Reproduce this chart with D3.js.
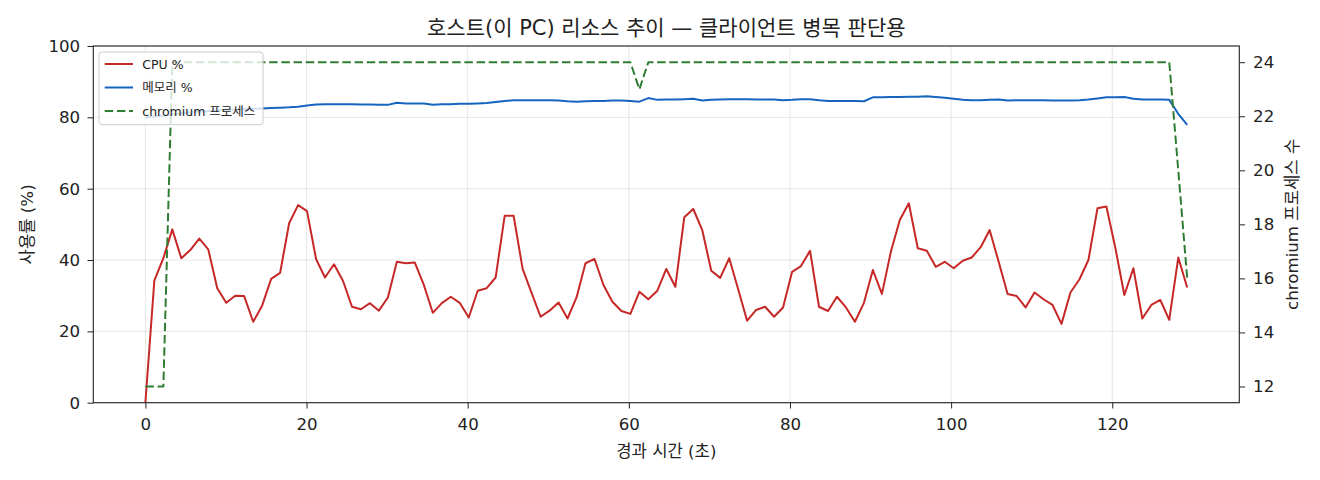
<!DOCTYPE html>
<html>
<head>
<meta charset="utf-8">
<script src="https://cdn.jsdelivr.net/npm/d3@7/dist/d3.min.js"></script>
<style>
  html, body { margin: 0; padding: 0; background: #fff; }
  svg { display: block; }
  text { font-family: "DejaVu Sans", "Noto Sans CJK KR", sans-serif; fill: #222; }
</style>
</head>
<body>
<svg id="chart" width="1320" height="480"></svg>
<script>
// ---- data ----
const times = [
  0.00,1.11,2.23,3.34,4.46,5.57,6.69,7.80,8.92,10.03,
  11.15,12.26,13.38,14.49,15.61,16.72,17.84,18.95,20.06,21.18,
  22.29,23.41,24.52,25.64,26.75,27.87,28.98,30.10,31.21,32.33,
  33.44,34.56,35.67,36.79,37.90,39.01,40.13,41.24,42.36,43.47,
  44.59,45.70,46.82,47.93,49.05,50.16,51.28,52.39,53.51,54.62,
  55.74,56.85,57.96,59.08,60.19,61.31,62.42,63.54,64.65,65.77,
  66.88,68.00,69.11,70.23,71.34,72.46,73.57,74.68,75.80,76.91,
  78.03,79.14,80.26,81.37,82.49,83.60,84.72,85.83,86.95,88.06,
  89.18,90.29,91.41,92.52,93.63,94.75,95.86,96.98,98.09,99.21,
  100.32,101.44,102.55,103.67,104.78,105.90,107.01,108.13,109.24,110.35,
  111.47,112.58,113.70,114.81,115.93,117.04,118.16,119.27,120.39,121.50,
  122.62,123.73,124.85,125.96,127.07,128.19,129.30
];
const cpuPct = [
  0.0,34.2,40.5,48.6,40.5,42.8,46.0,43.0,32.1,28.0,
  30.0,29.9,22.7,27.2,34.7,36.4,50.3,55.4,53.7,40.3,
  35.1,38.8,34.2,26.9,26.2,27.9,25.8,29.5,39.5,39.1,
  39.3,33.0,25.2,27.9,29.7,28.0,23.9,31.4,32.1,35.1,
  52.4,52.4,37.5,30.8,24.1,25.8,28.1,23.6,29.5,39.1,
  40.3,33.0,28.3,25.7,24.9,31.1,29.0,31.4,37.5,32.5,
  52.0,54.3,48.4,37.0,35.0,40.5,31.8,23.0,26.0,26.9,
  24.1,26.7,36.7,38.3,42.6,26.9,25.7,29.7,26.7,22.7,
  28.0,37.2,30.5,42.3,51.2,55.9,43.3,42.6,38.1,39.5,
  37.7,39.8,40.7,43.6,48.4,39.5,30.5,29.9,26.7,30.9,
  29.0,27.4,22.1,30.9,34.6,40.0,54.5,55.0,43.3,30.2,
  37.7,23.6,27.4,28.8,23.2,40.7,32.3
];
const memPct = [
  79.9,80.2,80.5,80.8,81.1,81.4,81.6,81.8,82.0,82.1,
  82.2,82.3,82.4,82.5,82.6,82.7,82.8,83.0,83.3,83.6,
  83.7,83.7,83.7,83.7,83.6,83.6,83.5,83.5,84.1,83.9,
  83.9,83.9,83.5,83.7,83.7,83.8,83.8,83.9,84.0,84.3,
  84.6,84.8,84.8,84.8,84.8,84.8,84.7,84.5,84.4,84.5,
  84.6,84.6,84.7,84.7,84.6,84.4,85.4,84.9,85.0,85.0,
  85.1,85.2,84.7,84.9,85.0,85.1,85.1,85.1,85.0,85.0,
  85.0,84.8,84.9,85.1,85.1,84.8,84.6,84.6,84.6,84.6,
  84.5,85.6,85.6,85.7,85.7,85.8,85.8,85.9,85.7,85.5,
  85.2,84.9,84.8,84.8,84.9,85.0,84.7,84.8,84.8,84.8,
  84.8,84.7,84.7,84.7,84.8,85.0,85.3,85.6,85.6,85.7,
  85.2,85.0,85.0,85.0,84.9,81.0,77.9
];
const chromiumCount = [
  12,12,12,24,24,24,24,24,24,24,
  24,24,24,24,24,24,24,24,24,24,
  24,24,24,24,24,24,24,24,24,24,
  24,24,24,24,24,24,24,24,24,24,
  24,24,24,24,24,24,24,24,24,24,
  24,24,24,24,24,23,24,24,24,24,
  24,24,24,24,24,24,24,24,24,24,
  24,24,24,24,24,24,24,24,24,24,
  24,24,24,24,24,24,24,24,24,24,
  24,24,24,24,24,24,24,24,24,24,
  24,24,24,24,24,24,24,24,24,24,
  24,24,24,24,24,20,16
];
const xTicks = [0, 20, 40, 60, 80, 100, 120];
const yLeftTicks = [0, 20, 40, 60, 80, 100];
const yRightTicks = [12, 14, 16, 18, 20, 22, 24];
const titleText = "호스트(이 PC) 리소스 추이 — 클라이언트 병목 판단용";
const xLabel = "경과 시간 (초)";
const yLeftLabel = "사용률 (%)";
const yRightLabel = "chromium 프로세스 수";
const legendItems = [
  { label: "CPU %", key: "cpu" },
  { label: "메모리 %", key: "mem" },
  { label: "chromium 프로세스", key: "chr" }
];

// ---- layout / style ----
const C = { cpu: "#c62828", mem: "#1565c0", chr: "#2e7d32" };
const M = { left: 93.3, top: 46, right: 1239.3, bottom: 402.7 };
const W = M.right - M.left, H = M.bottom - M.top;
const TICK_FS = 16.67, LABEL_FS = 16.67, TITLE_FS = 21, LEGEND_FS = 12.5;

const svg = d3.select("#chart");
const g = svg.append("g").attr("transform", `translate(${M.left},${M.top})`);

const n = Math.min(times.length, cpuPct.length, memPct.length, chromiumCount.length);
const rows = d3.range(n).map(i => ({ t: times[i], cpu: cpuPct[i], mem: memPct[i], chr: chromiumCount[i] }));

const tExt = d3.extent(rows, d => d.t);
const tPad = (tExt[1] - tExt[0]) * 0.05;
const x = d3.scaleLinear().domain([tExt[0] - tPad, tExt[1] + tPad]).range([0, W]);
const yL = d3.scaleLinear().domain([0, 100]).range([H, 0]);
const cExt = d3.extent(rows, d => d.chr);
const cPad = (cExt[1] - cExt[0]) * 0.05;
const yR = d3.scaleLinear().domain([cExt[0] - cPad, cExt[1] + cPad]).range([H, 0]);

// grid
const grid = g.append("g").attr("stroke", "#b0b0b0").attr("stroke-opacity", 0.3).attr("stroke-width", 1);
grid.selectAll(".gx").data(xTicks).join("line")
  .attr("x1", d => x(d)).attr("x2", d => x(d)).attr("y1", 0).attr("y2", H);
grid.selectAll(".gy").data(yLeftTicks).join("line")
  .attr("x1", 0).attr("x2", W).attr("y1", d => yL(d)).attr("y2", d => yL(d));

svg.append("clipPath").attr("id", "plotclip").append("rect")
  .attr("x", 0).attr("y", 0).attr("width", W).attr("height", H);

const lineCpu = d3.line().x(d => x(d.t)).y(d => yL(d.cpu));
const lineMem = d3.line().x(d => x(d.t)).y(d => yL(d.mem));
const lineChr = d3.line().x(d => x(d.t)).y(d => yR(d.chr));

const plot = g.append("g").attr("clip-path", "url(#plotclip)");
plot.append("path").datum(rows).attr("d", lineCpu)
  .attr("fill", "none").attr("stroke", C.cpu).attr("stroke-width", 2).attr("stroke-linejoin", "round");
plot.append("path").datum(rows).attr("d", lineMem)
  .attr("fill", "none").attr("stroke", C.mem).attr("stroke-width", 2).attr("stroke-linejoin", "round");

// legend (belongs to the left axes, below the twin-axis line)
const leg = g.append("g").attr("transform", "translate(5.7,6)");
leg.append("rect").attr("width", 164).attr("height", 72.7).attr("rx", 3)
  .attr("fill", "#fff").attr("fill-opacity", 0.8).attr("stroke", "#cccccc").attr("stroke-width", 1);
const li = leg.selectAll(".li").data(legendItems).join("g")
  .attr("transform", (d, i) => `translate(0,${12 + i * 23.5})`);
li.append("line").attr("x1", 5.7).attr("x2", 34).attr("y1", 0).attr("y2", 0)
  .attr("stroke", d => C[d.key]).attr("stroke-width", 2)
  .attr("stroke-dasharray", d => d.key === "chr" ? "8.5,3.7" : null);
li.append("text").attr("x", 43.3).attr("y", 0).attr("dy", "0.36em")
  .style("font-size", LEGEND_FS + "px").text(d => d.label);

// twin axis line on top
plot.append("path").datum(rows).attr("d", lineChr)
  .attr("fill", "none").attr("stroke", C.chr).attr("stroke-width", 2)
  .attr("stroke-dasharray", "8.5,3.7").attr("stroke-linejoin", "round");

// axes
const fmt = d3.format("d");
const ax = g.append("g").attr("transform", `translate(0,${H})`)
  .call(d3.axisBottom(x).tickValues(xTicks).tickFormat(fmt).tickSizeOuter(0).tickSize(5.8).tickPadding(5.8));
const ayl = g.append("g")
  .call(d3.axisLeft(yL).tickValues(yLeftTicks).tickFormat(fmt).tickSizeOuter(0).tickSize(5.8).tickPadding(7.3));
const ayr = g.append("g").attr("transform", `translate(${W},0)`)
  .call(d3.axisRight(yR).tickValues(yRightTicks).tickFormat(fmt).tickSizeOuter(0).tickSize(5.8).tickPadding(8));
[ax, ayl, ayr].forEach(a => {
  a.select(".domain").remove();
  a.selectAll("text").style("font-size", TICK_FS + "px").attr("fill", "#222");
  a.selectAll("line").attr("stroke", "#222");
});
ax.selectAll("text").attr("dy", null).attr("y", 27.3);

// frame
g.append("rect").attr("width", W).attr("height", H)
  .attr("fill", "none").attr("stroke", "#222").attr("stroke-width", 1.1);

// labels
svg.append("text").attr("x", M.left + W / 2).attr("y", 35)
  .attr("text-anchor", "middle").style("font-size", TITLE_FS + "px").text(titleText);
svg.append("text").attr("x", M.left + W / 2).attr("y", 457)
  .attr("text-anchor", "middle").style("font-size", LABEL_FS + "px").text(xLabel);
svg.append("text").attr("transform", `translate(33,${M.top + H / 2}) rotate(-90)`)
  .attr("text-anchor", "middle").style("font-size", LABEL_FS + "px").text(yLeftLabel);
svg.append("text").attr("transform", `translate(1298,${M.top + H / 2}) rotate(-90)`)
  .attr("text-anchor", "middle").style("font-size", LABEL_FS + "px").text(yRightLabel);
</script>
</body>
</html>
